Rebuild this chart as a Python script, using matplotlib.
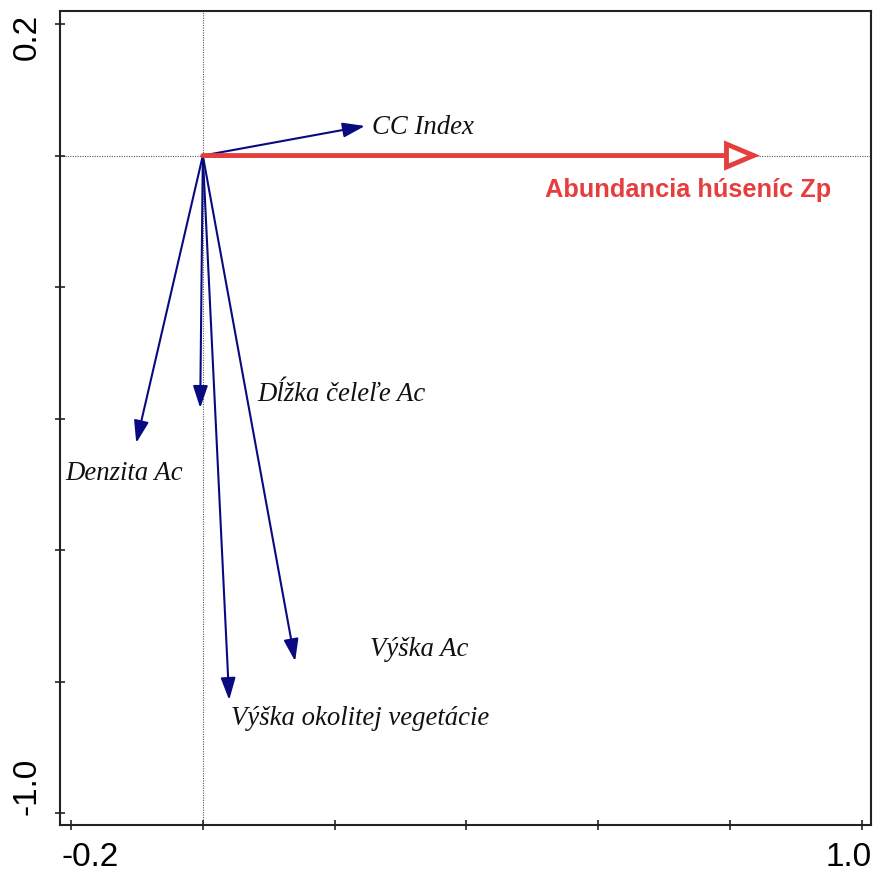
import matplotlib
matplotlib.use("Agg")
import matplotlib.pyplot as plt
from matplotlib.patches import FancyArrowPatch
import matplotlib.transforms as mtransforms

# Data: environmental variable vectors (x, y)
env_names = ["CC Index", "Dĺžka čeleľe Ac", "Denzita Ac", "Výška Ac", "Výška okolitej vegetácie"]
env_x = [0.246, -0.004, -0.101, 0.140, 0.040]
env_y = [0.045, -0.384, -0.437, -0.769, -0.828]
env_label_x = [0.256, 0.082, -0.209, 0.254, 0.043]
env_label_y = [0.042, -0.363, -0.483, -0.751, -0.856]

species_name = "Abundancia húseníc Zp"
species_x = [0.845]
species_y = [0.0]
species_label_x = [0.519]
species_label_y = [-0.052]

xticks = [-0.2, 0.0, 0.2, 0.4, 0.6, 0.8, 1.0]
yticks = [0.2, 0.0, -0.2, -0.4, -0.6, -0.8, -1.0]
xlim = (-0.2167, 1.0137)
ylim = (-1.018, 0.2198)

fig = plt.figure(figsize=(8.75, 8.72), dpi=100)
ax = fig.add_axes([60/875, 47/872, 811/875, 814/872])
ax.set_xlim(*xlim)
ax.set_ylim(*ylim)

ax.axhline(0, color="#555555", lw=0.8, ls=(0, (1, 1.2)), zorder=1)
ax.axvline(0, color="#555555", lw=0.8, ls=(0, (1, 1.2)), zorder=1)

navy = "#0a0a80"
for x, y in zip(env_x, env_y):
    a = FancyArrowPatch((0, 0), (x, y), arrowstyle="-|>,head_length=0.9,head_width=0.3",
                        mutation_scale=15, color=navy, lw=1.5, shrinkA=0, shrinkB=0, zorder=3)
    ax.add_patch(a)
for name, lx, ly in zip(env_names, env_label_x, env_label_y):
    ax.text(lx, ly, name, family="Liberation Serif", style="italic", fontsize=19.3,
            ha="left", va="center", color="#111111")

red = "#e63e3e"
for x, y in zip(species_x, species_y):
    a = FancyArrowPatch((0, 0), (x, y), arrowstyle="-|>,head_length=1.3,head_width=0.55",
                        mutation_scale=15, fc="white", ec=red, lw=3.5, shrinkA=0, shrinkB=0,
                        zorder=4, joinstyle="miter")
    ax.add_patch(a)
ax.text(species_label_x[0], species_label_y[0], species_name, family="Liberation Sans",
        weight="bold", fontsize=18.3, color=red, ha="left", va="center")

ax.set_xticks(xticks)
ax.set_yticks(yticks)
ax.set_xticklabels([])
ax.set_yticklabels([])
ax.tick_params(direction="inout", length=7, width=1.2, colors="#222222")
for s in ax.spines.values():
    s.set_linewidth(1.5)
    s.set_color("#222222")

# End tick labels (placed inward as in the reference)
bt = mtransforms.blended_transform_factory(ax.transData, fig.transFigure)
ax.text(xticks[0] + 0.029, 15/872, "-0.2", transform=bt, family="Liberation Sans",
        fontsize=24, ha="center", va="center", clip_on=False)
ax.text(xticks[-1] - 0.021, 15/872, "1.0", transform=bt, family="Liberation Sans",
        fontsize=24, ha="center", va="center", clip_on=False)
lt = mtransforms.blended_transform_factory(fig.transFigure, ax.transData)
ax.text(27/875, yticks[0] - 0.02, "0.2", transform=lt, family="Liberation Sans",
        fontsize=24, ha="center", va="center", rotation=90, clip_on=False)
ax.text(27/875, yticks[-1] + 0.04, "-1.0", transform=lt, family="Liberation Sans",
        fontsize=24, ha="center", va="center", rotation=90, clip_on=False)

fig.savefig("out.png", dpi=100, facecolor="white")
